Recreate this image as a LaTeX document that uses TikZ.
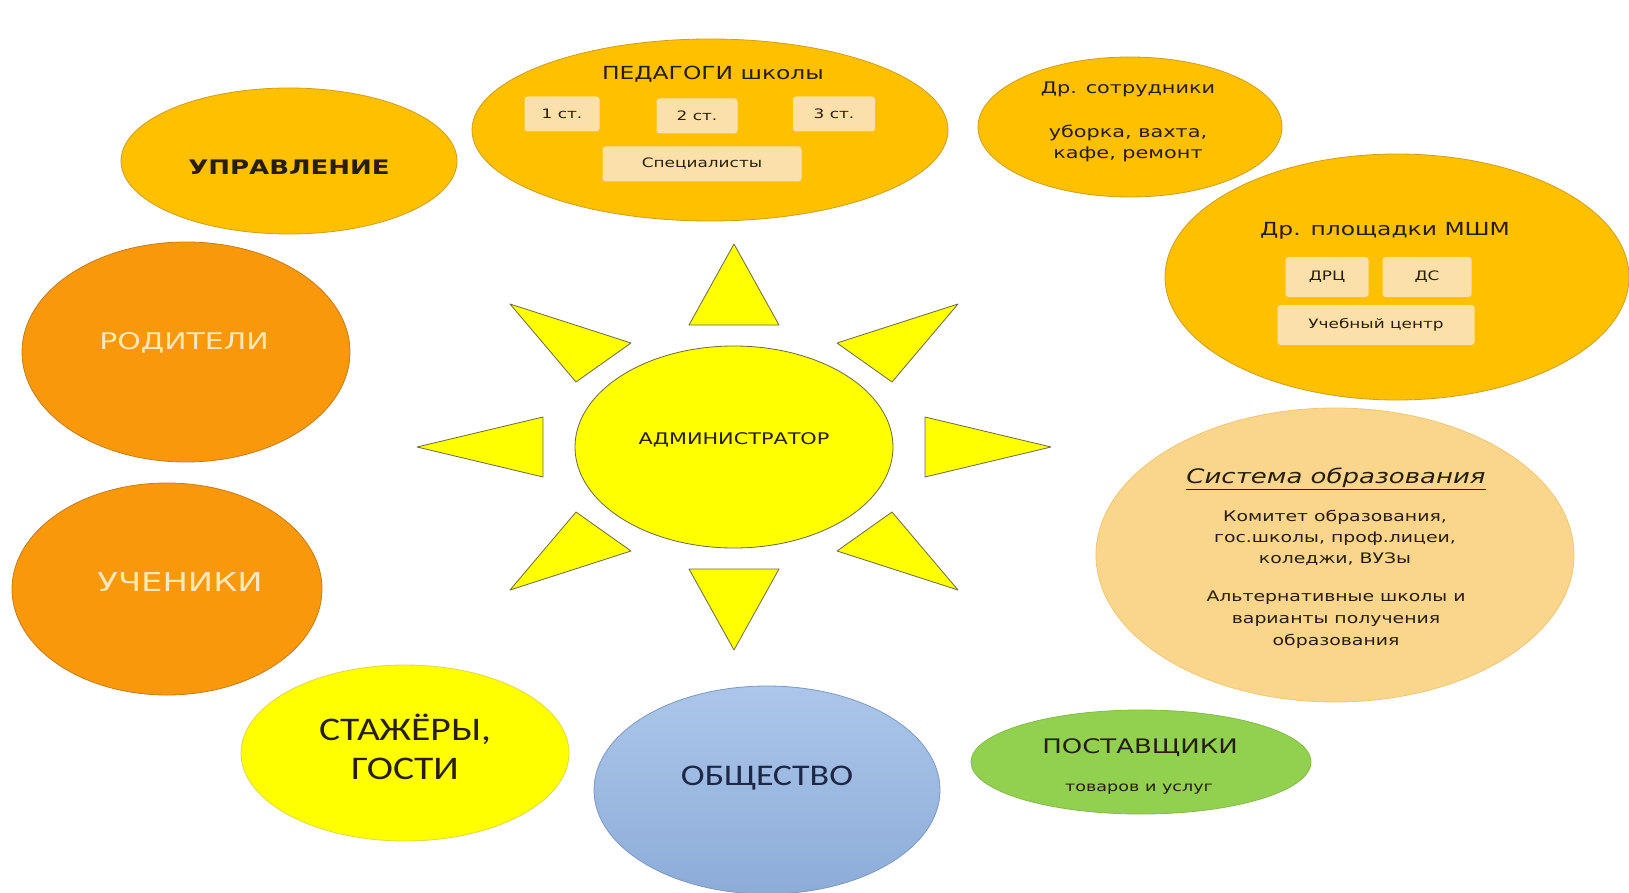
\documentclass[tikz,border=0pt]{standalone}
\usepackage{fontspec}
\setmainfont{DejaVu Sans}[FakeStretch=1.3]
\newfontfamily\calfont{Carlito}[FakeStretch=1.2]
\usepackage{xcolor}
\usepackage{tikz}
\usetikzlibrary{shapes.geometric,positioning,calc}
\definecolor{gold}{RGB}{255,192,0}
\definecolor{goldline}{RGB}{210,158,25}
\definecolor{deeporange}{RGB}{250,152,12}
\definecolor{deepline}{RGB}{200,125,25}
\definecolor{sunyellow}{RGB}{255,255,0}
\definecolor{sunline}{RGB}{105,105,70}
\definecolor{guestline}{RGB}{225,215,70}
\definecolor{skytop}{RGB}{172,198,234}
\definecolor{skybottom}{RGB}{140,172,216}
\definecolor{skyline}{RGB}{125,152,195}
\definecolor{leafgreen}{RGB}{146,208,80}
\definecolor{leafline}{RGB}{132,188,70}
\definecolor{sand}{RGB}{250,214,140}
\definecolor{sandline}{RGB}{242,198,115}
\definecolor{peach}{RGB}{252,224,170}
\definecolor{ink}{RGB}{40,30,15}
\definecolor{cream}{RGB}{252,232,185}
\definecolor{navyink}{RGB}{30,40,70}
\newcommand{\fsz}[2]{\fontsize{#1}{#2}\selectfont}
\tikzset{
  bubble/.style={ellipse, draw, line width=0.8pt, inner sep=0pt},
  goldbubble/.style={bubble, fill=gold, draw=goldline},
  orangebubble/.style={bubble, fill=deeporange, draw=deepline},
  sunbubble/.style={bubble, fill=sunyellow, draw=sunline},
  bubbletext/.style={inner sep=0pt, align=center, text=ink},
  tagbox/.style={fill=peach, rounded corners=3pt, inner sep=0pt,
    minimum height=35pt, text=ink, font=\fsz{13}{15}},
  ray/.style={fill=sunyellow, draw=sunline, line width=0.8pt, line join=round}
}
\begin{document}
\begin{tikzpicture}[x=1pt, y=-1pt]
\useasboundingbox (0,0) rectangle (1629,893);
\fill[white] (0,0) rectangle (1629,893);

% солнце
\begin{scope}[shift={(734,447)}]
\foreach \sx/\sy in {1/1,-1/1,1/-1,-1/-1}
  \draw[ray, xscale=\sx, yscale=\sy] (224,-143) -- (103,-104) -- (158,-65) -- cycle;
\foreach \sy in {1,-1}
  \draw[ray, yscale=\sy] (0,-203) -- (45,-122) -- (-45,-122) -- cycle;
\foreach \sx in {1,-1}
  \draw[ray, xscale=\sx] (317,0) -- (191,-30) -- (191,30) -- cycle;
\end{scope}
\node[sunbubble, minimum width=318pt, minimum height=202pt] (admin) at (734,447) {};
\node[bubbletext, font=\fsz{16}{18}] (admintxt) at ($(admin)+(0,-7)$) {АДМИНИСТРАТОР};

% педагоги
\node[goldbubble, minimum width=476pt, minimum height=182pt] (ped) at (710,130) {};
\node[bubbletext, font=\fsz{18}{22}] (pedtitle) at (713,74) {ПЕДАГОГИ школы};
\node[tagbox, minimum width=75pt] (st1) at (562,114) {1 ст.};
\node[tagbox, minimum width=81pt] (st2) at (697,116) {2 ст.};
\node[tagbox, minimum width=82pt] (st3) at (834,114) {3 ст.};
\node[tagbox, minimum width=199pt] (spec) at (702,164) {Специалисты};

% другие сотрудники
\node[goldbubble, minimum width=304pt, minimum height=140pt] (sotr) at (1130,127) {};
\node[bubbletext, font=\fsz{16}{20}] (sotrtitle) at (1128,89) {Др. сотрудники};
\node[bubbletext, font=\fsz{16}{21}, below=28pt of sotrtitle.south] (sotrtxt) {уборка, вахта,\\кафе, ремонт};

% площадки
\node[goldbubble, minimum width=464pt, minimum height=246pt] (plo) at (1397,277) {};
\node[bubbletext, font=\fsz{18}{22}] (plotitle) at (1385,231) {Др. площадки МШМ};
\node[tagbox, minimum width=83pt, minimum height=40pt] (drc) at (1327,277) {ДРЦ};
\node[tagbox, minimum width=89pt, minimum height=40pt] (ds) at (1427,277) {ДС};
\node[tagbox, minimum width=197pt, minimum height=40pt] (uc) at (1376,325) {Учебный центр};

% система образования
\node[bubble, fill=sand, draw=sandline, minimum width=478pt, minimum height=294pt] (sys) at (1335,555) {};
\node[bubbletext, font=\fsz{20}{24}\itshape] (systitle) at (1336,479) {\underline{Система образования}};
\node[bubbletext, font=\fsz{14.5}{21}] (sys1) at (1335,538) {Комитет образования,\\гос.школы, проф.лицеи,\\коледжи, ВУЗы};
\node[bubbletext, font=\fsz{14.5}{22}] (sys2) at (1336,620) {Альтернативные школы и\\варианты получения\\образования};

% поставщики
\node[bubble, fill=leafgreen, draw=leafline, minimum width=340pt, minimum height=104pt] (post) at (1141,762) {};
\node[bubbletext, font=\fsz{20}{24}] (posttitle) at (1140,748) {ПОСТАВЩИКИ};
\node[bubbletext, font=\fsz{13.5}{16}] (postsub) at (1139,789) {товаров и услуг};

% общество
\node[bubble, top color=skytop, bottom color=skybottom, draw=skyline, minimum width=346pt, minimum height=208pt] (obsh) at (767,790) {};
\node[bubbletext, text=navyink, font=\calfont\fsz{30}{34}] (obshtxt) at ($(obsh)+(0,-12)$) {ОБЩЕСТВО};

% левая сторона
\node[bubble, fill=sunyellow, draw=guestline, minimum width=328pt, minimum height=176pt] (staj) at (405,753) {};
\node[bubbletext, font=\calfont\fsz{33}{39}] (stajtxt) at ($(staj)+(0,-6)$) {СТАЖЁРЫ,\\ГОСТИ};
\node[orangebubble, minimum width=310pt, minimum height=212pt] (uch) at (167,589) {};
\node[bubbletext, text=cream, font=\fsz{26}{30}] (uchtxt) at (180,582) {УЧЕНИКИ};
\node[orangebubble, minimum width=328pt, minimum height=220pt] (rod) at (186,352) {};
\node[bubbletext, text=cream, font=\fsz{23}{27}] (rodtxt) at (184,343) {РОДИТЕЛИ};
\node[goldbubble, minimum width=336pt, minimum height=146pt] (upr) at (289,161) {};
\node[bubbletext, font=\fsz{20}{24}\bfseries] (uprtxt) at ($(upr)+(0,6)$) {УПРАВЛЕНИЕ};
\end{tikzpicture}
\end{document}
